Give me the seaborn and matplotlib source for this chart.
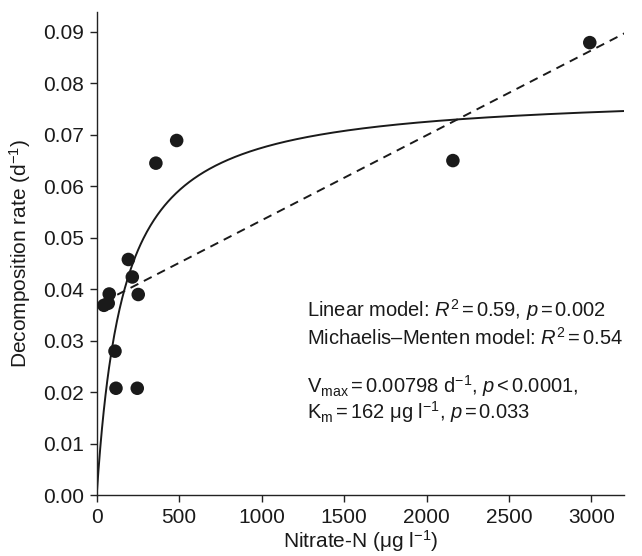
import numpy as np
import pandas as pd
import matplotlib
matplotlib.use("Agg")
import matplotlib.pyplot as plt
import seaborn as sns

# Observed nitrate concentrations and decomposition rates
nitrate = [44, 76, 70, 111, 117, 192, 216, 246, 252, 359, 485, 2160, 2990]
decomp = [0.0369, 0.0391, 0.0373, 0.0280, 0.0208, 0.0458, 0.0424, 0.0208,
          0.0390, 0.0645, 0.0689, 0.0650, 0.0879]

# Fitted models
lin_intercept = 0.0369
lin_slope = 1.65e-5
mm_vmax = 0.0784
mm_km = 162

x_ticks = [0, 500, 1000, 1500, 2000, 2500, 3000]
y_ticks = [0.00, 0.01, 0.02, 0.03, 0.04, 0.05, 0.06, 0.07, 0.08, 0.09]

sns.set_theme(style="ticks")
plt.rcParams["font.family"] = ["Liberation Sans", "DejaVu Sans"]
plt.rcParams["mathtext.fontset"] = "custom"
plt.rcParams["mathtext.rm"] = "Liberation Sans"
plt.rcParams["mathtext.it"] = "Liberation Sans:italic"
plt.rcParams["mathtext.sf"] = "Liberation Sans"

ink = "#1a1a1a"

fig = plt.figure(figsize=(6.42, 5.56), dpi=100)
ax = fig.add_axes([0.1506, 0.109, 0.822, 0.869])

df = pd.DataFrame({"nitrate": nitrate, "decomp": decomp})

xs = np.linspace(0, 3200, 600)
mm_curve = pd.DataFrame({"x": xs, "y": mm_vmax * xs / (mm_km + xs)})
xl = np.linspace(min(nitrate), 3200, 100)
lin_line = pd.DataFrame({"x": xl, "y": lin_intercept + lin_slope * xl})

sns.lineplot(data=mm_curve, x="x", y="y", ax=ax, color=ink, lw=1.4, zorder=2)
sns.lineplot(data=lin_line, x="x", y="y", ax=ax, color=ink, lw=1.4, zorder=2)
ax.lines[-1].set_dashes([4.5, 3.2])
sns.scatterplot(data=df, x="nitrate", y="decomp", ax=ax, s=95,
                color=ink, edgecolor="none", zorder=3)

ax.set_xlim(0, 3200)
ax.set_ylim(0, 0.0938)
ax.set_xticks(x_ticks)
ax.set_yticks(y_ticks)
ax.set_yticklabels([f"{v:.2f}" for v in y_ticks])
ax.tick_params(axis="both", labelsize=15, length=5, width=1, color="#222222",
               direction="out", labelcolor=ink)
ax.tick_params(axis="y", pad=4)
ax.tick_params(axis="x", pad=4)
for side in ["top", "right"]:
    ax.spines[side].set_visible(False)
for side in ["left", "bottom"]:
    ax.spines[side].set_linewidth(1)
    ax.spines[side].set_color("#222222")

ax.set_xlabel(r"Nitrate-N (μg l$^{-1}$)", fontsize=15, color=ink, labelpad=1)
ax.set_ylabel(r"Decomposition rate (d$^{-1}$)", fontsize=15, color=ink,
              labelpad=7)

lines = [
    r"Linear model: $\mathit{R}^2$$\,$=$\,$0.59, $\mathit{p}$$\,$=$\,$0.002",
    r"Michaelis–Menten model: $\mathit{R}^2$$\,$=$\,$0.54",
    r"V$_{\rm max}$$\,$=$\,$0.00798 d$^{-1}$, $\mathit{p}$$\,$<$\,$0.0001,",
    r"K$_{\rm m}$$\,$=$\,$162 μg l$^{-1}$, $\mathit{p}$$\,$=$\,$0.033",
]
line_y = [310, 338, 386, 412]
for t, yy in zip(lines, line_y):
    fig.text(307 / 642, 1 - yy / 556, t, fontsize=14.5, color=ink,
             va="center", ha="left")

fig.savefig("out.png", dpi=100)
